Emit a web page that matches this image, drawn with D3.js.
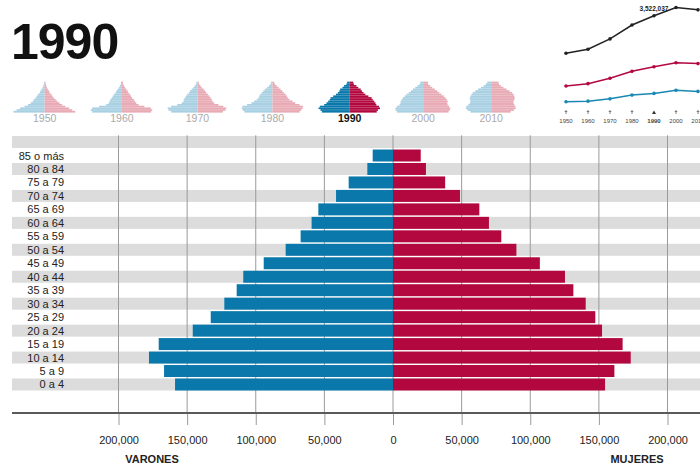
<!DOCTYPE html>
<html><head><meta charset="utf-8">
<script src="https://cdn.jsdelivr.net/npm/d3@7"></script>
<style>
body{margin:0;background:#fff;}
svg{display:block;font-family:"Liberation Sans",Arial,Helvetica,sans-serif;}
</style></head>
<body><svg id="c" width="700" height="465"></svg>
<script>
// ---------- DATA ----------
const title = "1990";
const ageGroups = ["85 o más","80 a 84","75 a 79","70 a 74","65 a 69","60 a 64","55 a 59","50 a 54","45 a 49",
  "40 a 44","35 a 39","30 a 34","25 a 29","20 a 24","15 a 19","10 a 14","5 a 9","0 a 4"];
const varones = [14800,18700,32300,41500,54400,59300,67300,78200,94200,109100,113900,122900,132800,145900,170700,177800,166800,158800];
const mujeres = [20200,24000,38000,48800,62900,69900,78900,89900,107000,125300,131400,140400,147400,152300,167300,173200,161300,154500];
const xTicks = [-200000,-150000,-100000,-50000,0,50000,100000,150000,200000];
const leftLabel = "VARONES", rightLabel = "MUJERES";

// thumbnails (thousands, 85+ .. 0-4)
const thumbYears = [1950,1960,1970,1980,1990,2000,2010];
const thumbMen = {
 1950:[4,5,8,12,17,24,28,38,45,52,62,68,80,95,115,140,160,178],
 1960:[5,6,11,17,24,32,36,45,52,58,66,70,75,90,130,170,178,170],
 1970:[6,8,15,23,33,42,48,58,65,72,78,80,90,115,150,170,165,150],
 1980:[8,11,20,30,42,52,60,70,75,80,90,105,120,145,172,175,170,160],
 2000:[16,20,32,45,58,70,82,95,105,115,122,128,130,135,150,158,158,150],
 2010:[22,30,42,58,75,90,105,112,118,122,120,118,122,130,142,145,135,118]
};
const thumbWomen = {
 1950:[5,6,9,13,18,25,29,38,45,52,63,72,85,100,118,140,158,175],
 1960:[6,7,12,18,25,33,37,46,52,58,68,74,82,95,128,165,173,167],
 1970:[7,10,17,25,35,44,50,60,68,76,82,86,96,120,148,165,160,145],
 1980:[10,14,24,35,46,56,65,75,82,88,98,115,130,155,175,172,165,155],
 2000:[28,28,40,52,66,80,92,105,118,128,135,140,138,140,148,155,152,145],
 2010:[42,45,55,70,88,105,120,128,132,135,132,128,128,132,138,140,130,112]
};
const activeYear = 1990;

// mini line chart (millions)
const lineYears = [1950,1960,1970,1980,1990,2000,2010];
const totalPop = [2.210703,2.349544,2.712033,3.196520,3.522037,3.808610,3.725789];
const redSeries = [1.07,1.15,1.34,1.58,1.74,1.88,1.85];
const blueSeries = [0.52,0.54,0.62,0.75,0.81,0.92,0.88];
const totalLabel = "3,522,037";

// ---------- STYLE ----------
const BLUE = "#0a78aa", RED = "#b3083f";
const LBLUE = "#a8d0e2", LRED = "#e8aab4";
const svg = d3.select("#c");

// title
svg.append("text").attr("x", 11).attr("y", 59).attr("font-size", 50).attr("font-weight", "bold")
  .attr("letter-spacing", -1).attr("fill", "#111").text(title);

// ---------- MAIN PYRAMID ----------
const rows = [""].concat(ageGroups);
const y = d3.scaleBand().domain(rows).range([135.3, 135.3 + 19 * 13.47]).paddingInner(0.11).paddingOuter(0.055);
const x = d3.scaleLinear().domain([-200000, 200000]).range([118.5, 667.5]);

const g = svg.append("g");
// stripes
g.selectAll("rect.stripe").data(rows.filter((d, i) => i % 2 === 0)).join("rect")
  .attr("x", 12).attr("width", 688).attr("y", d => y(d)).attr("height", y.bandwidth()).attr("fill", "#dcdcdc");
// grid lines
const axisY = 413;
g.selectAll("line.grid").data(xTicks).join("line")
  .attr("x1", d => x(d)).attr("x2", d => x(d)).attr("y1", y.range()[0]).attr("y2", axisY)
  .attr("stroke", "#9a9a9a").attr("stroke-width", 1);
// bars
g.selectAll("rect.m").data(ageGroups).join("rect")
  .attr("x", (d, i) => x(-varones[i])).attr("width", (d, i) => x(0) - x(-varones[i]))
  .attr("y", d => y(d)).attr("height", y.bandwidth()).attr("fill", BLUE);
g.selectAll("rect.f").data(ageGroups).join("rect")
  .attr("x", x(0)).attr("width", (d, i) => x(mujeres[i]) - x(0))
  .attr("y", d => y(d)).attr("height", y.bandwidth()).attr("fill", RED);
// row labels
g.selectAll("text.age").data(ageGroups).join("text")
  .attr("x", 64).attr("y", d => y(d) + y.bandwidth() / 2 + 4).attr("text-anchor", "end")
  .attr("font-size", 11).attr("fill", "#222").text(d => d);
// axis
const ax = svg.append("g").attr("transform", `translate(0,${axisY})`)
  .call(d3.axisBottom(x).tickValues(xTicks).tickSize(12).tickPadding(11)
    .tickFormat(d => d3.format(",")(Math.abs(d))));
ax.select(".domain").remove();
ax.selectAll(".tick line").attr("stroke", "#9a9a9a");
ax.selectAll(".tick text").attr("font-size", 11).attr("fill", "#222")
  .attr("font-family", "Liberation Sans, Arial, sans-serif");
svg.append("line").attr("x1", 12).attr("x2", 700).attr("y1", axisY).attr("y2", axisY)
  .attr("stroke", "#5a5a5a").attr("stroke-width", 2);
svg.append("text").attr("x", 152).attr("y", 463).attr("text-anchor", "middle").attr("font-size", 11)
  .attr("font-weight", "bold").attr("fill", "#222").text(leftLabel);
svg.append("text").attr("x", 637).attr("y", 463).attr("text-anchor", "middle").attr("font-size", 11)
  .attr("font-weight", "bold").attr("fill", "#222").text(rightLabel);

// ---------- THUMBNAILS ----------
const tk = 0.175; // px per thousand
const ty = d3.scaleBand().domain(ageGroups).range([81.6, 112.4]).paddingInner(0.12);
let left = 13.5;
thumbYears.forEach(yr => {
  const men = yr === activeYear ? varones.map(v => v / 1000) : thumbMen[yr];
  const wom = yr === activeYear ? mujeres.map(v => v / 1000) : thumbWomen[yr];
  const cx = left + d3.max(men) * tk;
  const tx = d3.scaleLinear().domain([-1, 1]).range([cx - tk, cx + tk]);
  const active = yr === activeYear;
  const tg = svg.append("g");
  tg.selectAll("rect.tm").data(ageGroups).join("rect")
    .attr("x", (d, i) => tx(-men[i])).attr("width", (d, i) => tx(0) - tx(-men[i]))
    .attr("y", d => ty(d)).attr("height", ty.step()).attr("fill", active ? BLUE : LBLUE);
  tg.selectAll("rect.tw").data(ageGroups).join("rect")
    .attr("x", tx(0)).attr("width", (d, i) => tx(wom[i]) - tx(0))
    .attr("y", d => ty(d)).attr("height", ty.step()).attr("fill", active ? RED : LRED);
  tg.append("text").attr("x", cx).attr("y", 122).attr("text-anchor", "middle").attr("font-size", 10.5)
    .attr("font-weight", active ? "bold" : "normal").attr("fill", active ? "#111" : "#aaa").text(yr);
  left = cx + d3.max(wom) * tk + 15.5;
});

// ---------- MINI LINE CHART ----------
const lx = d3.scaleLinear().domain([1950, 2010]).range([566, 698]);
const ly = d3.scaleLinear().domain([0, 4]).range([116.6, 2]);
const lineGen = d3.line().x((d, i) => lx(lineYears[i])).y(d => ly(d));
[[totalPop, "#222"], [redSeries, RED], [blueSeries, "#1a88b5"]].forEach(([s, col]) => {
  svg.append("path").datum(s).attr("d", lineGen).attr("fill", "none").attr("stroke", col).attr("stroke-width", 1.5);
  svg.selectAll(null).data(s).join("circle").attr("cx", (d, i) => lx(lineYears[i])).attr("cy", d => ly(d))
    .attr("r", 1.8).attr("fill", col);
});
svg.append("text").attr("x", lx(1990)).attr("y", 11).attr("text-anchor", "middle").attr("font-size", 6.5)
  .attr("font-weight", "bold").attr("fill", "#222").text(totalLabel);
lineYears.forEach(yr => {
  const xx = lx(yr);
  if (yr === activeYear) {
    svg.append("path").attr("d", `M${xx - 2},${114} L${xx},${110.5} L${xx + 2},${114} Z`).attr("fill", "#333");
  } else {
    svg.append("line").attr("x1", xx).attr("x2", xx).attr("y1", 110).attr("y2", 114).attr("stroke", "#666").attr("stroke-width", 0.8);
    svg.append("line").attr("x1", xx - 1.3).attr("x2", xx + 1.3).attr("y1", 111.5).attr("y2", 111.5).attr("stroke", "#666").attr("stroke-width", 0.8);
  }
  svg.append("text").attr("x", xx).attr("y", 123).attr("text-anchor", "middle").attr("font-size", 6)
    .attr("font-weight", yr === activeYear ? "bold" : "normal").attr("fill", "#444").text(yr);
});
</script></body></html>
